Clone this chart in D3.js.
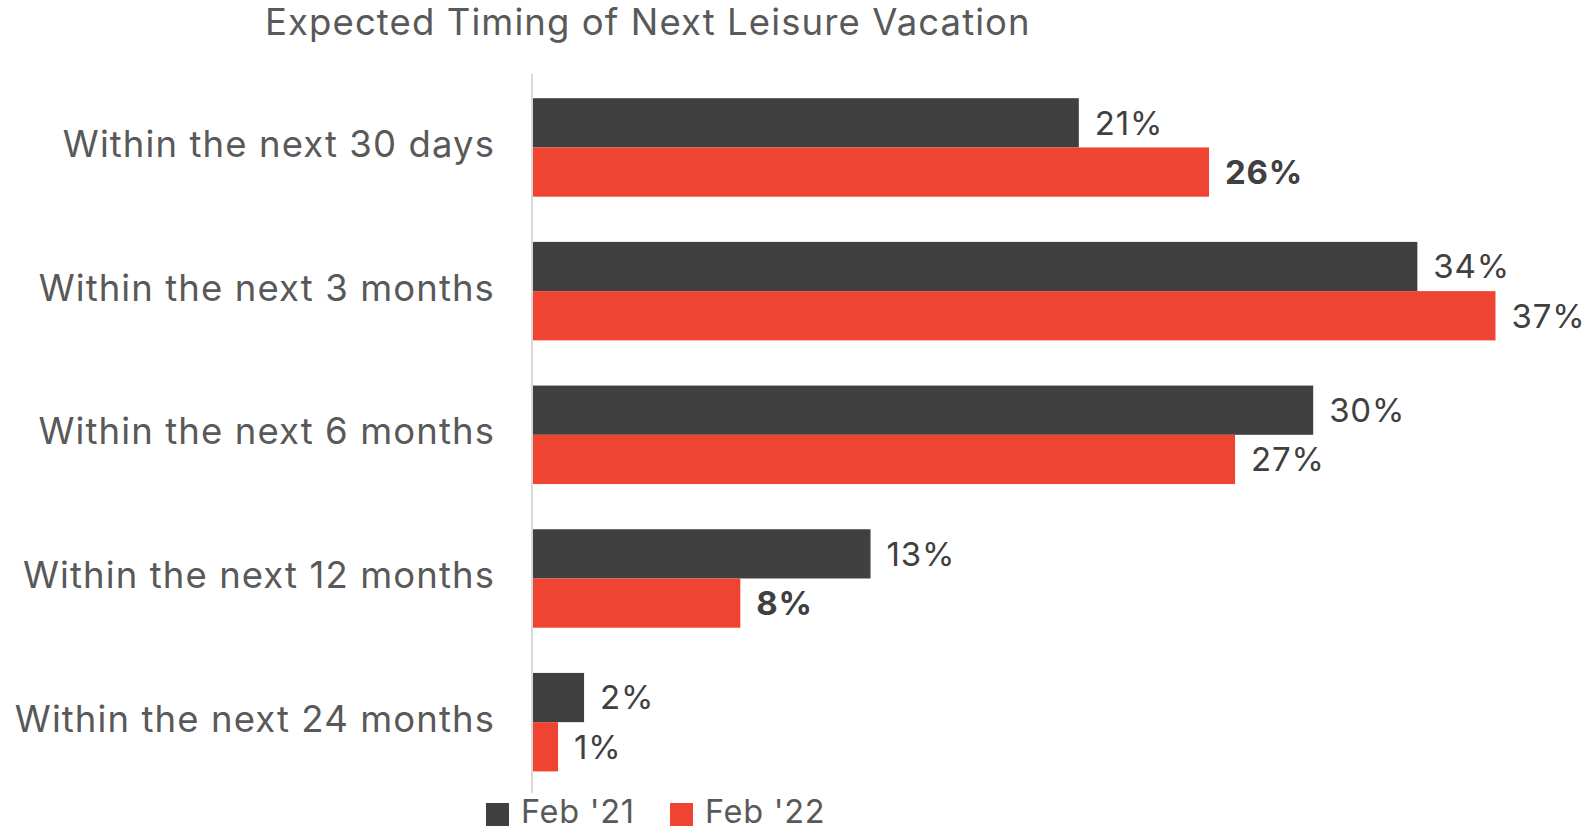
<!DOCTYPE html>
<html>
<head>
<meta charset="utf-8">
<script src="https://cdn.jsdelivr.net/npm/d3@7"></script>
<style>
  body { margin: 0; background: #fff; }
  svg { display: block; font-family: Inter, sans-serif; }
</style>
</head>
<body>
<svg id="chart"></svg>
<script>
// data
const categories = ['Within the next 30 days', 'Within the next 3 months', 'Within the next 6 months', 'Within the next 12 months', 'Within the next 24 months']
const seriesNames = ["Feb '21", "Feb '22"]
const feb21 = [21, 34, 30, 13, 2]
const feb22 = [26, 37, 27, 8, 1]
// labels shown in bold in the original
const boldFeb22 = ['Within the next 30 days', 'Within the next 12 months']

const colors = ['#404040', '#EE4431']

const width = 1596, height = 831
const margin = {top: 75.6, left: 532, bottom: 37}

const svg = d3.select('#chart')
    .attr('width', width)
    .attr('height', height)

let rows = categories.map((c, i) => ({cat: c, vals: [feb21[i], feb22[i]]}))

let x = d3.scaleLinear()
    .domain([0, 40])
    .range([margin.left, margin.left + 40 * 26.04])

let y = d3.scaleBand()
    .domain(categories)
    .range([margin.top, height - margin.bottom])
    .paddingInner(0.3146)
    .paddingOuter(0.1573)

let ySub = d3.scaleBand()
    .domain(seriesNames)
    .range([0, y.bandwidth()])

// title
svg.append('text')
    .attr('x', 265)
    .attr('y', 35)
    .attr('font-size', 36.5)
    .attr('letter-spacing', 1.1)
    .attr('fill', '#595959')
    .text('Expected Timing of Next Leisure Vacation')

// category labels (trailing letter-spacing pushed past the anchor)
svg.append('g')
    .selectAll('text')
    .data(categories)
    .join('text')
        .attr('x', 495)
        .attr('y', d => y(d) + y.bandwidth() / 2 + 9.5)
        .attr('text-anchor', 'end')
        .attr('font-size', 36.5)
        .attr('letter-spacing', 1.1)
        .attr('fill', '#595959')
        .text(d => d)

let groups = svg.append('g')
    .selectAll('g')
    .data(rows)
    .join('g')
        .attr('transform', d => `translate(0,${y(d.cat)})`)

groups.selectAll('rect')
    .data(d => d.vals.map((v, i) => ({cat: d.cat, series: seriesNames[i], v: v, i: i})))
    .join('rect')
        .attr('x', x(0))
        .attr('y', d => ySub(d.series))
        .attr('width', d => x(d.v) - x(0))
        .attr('height', ySub.bandwidth())
        .attr('fill', d => colors[d.i])

groups.selectAll('text')
    .data(d => d.vals.map((v, i) => ({cat: d.cat, series: seriesNames[i], v: v, i: i})))
    .join('text')
        .attr('x', d => x(d.v) + 16)
        .attr('y', d => ySub(d.series) + ySub.bandwidth() / 2)
        .attr('dy', '0.36em')
        .attr('font-size', 33)
        .attr('letter-spacing', 0.8)
        .attr('fill', '#404040')
        .attr('font-weight', d => (d.i == 1 && boldFeb22.includes(d.cat)) ? 'bold' : 'normal')
        .text(d => d.v + '%')

// vertical axis line
svg.append('line')
    .attr('x1', x(0)).attr('x2', x(0))
    .attr('y1', 74).attr('y2', 793)
    .attr('stroke', '#d9d9d9')
    .attr('stroke-width', 2)

// legend
let legendX = [486, 670]
let legend = svg.append('g')
    .selectAll('g')
    .data(seriesNames)
    .join('g')
        .attr('transform', (d, i) => `translate(${legendX[i]},803)`)

legend.append('rect')
    .attr('width', 23)
    .attr('height', 23)
    .attr('fill', (d, i) => colors[i])

legend.append('text')
    .attr('x', 35)
    .attr('y', 19.5)
    .attr('font-size', 32.5)
    .attr('letter-spacing', 0.7)
    .attr('fill', '#595959')
    .text(d => d)
</script>
</body>
</html>
